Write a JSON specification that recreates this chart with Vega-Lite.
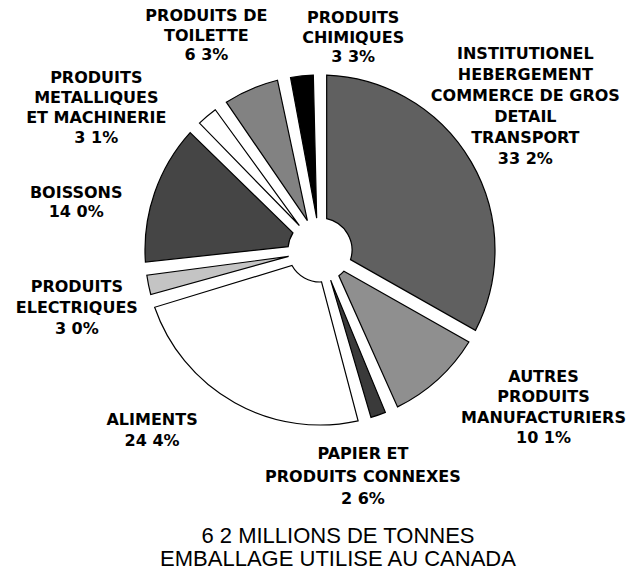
{
  "$schema": "https://vega.github.io/schema/vega-lite/v6.json",
  "width": 640,
  "height": 500,
  "autosize": {"type": "none"},
  "padding": {"left": 0, "top": 0, "right": 0, "bottom": 77},
  "background": "white",
  "view": {"stroke": null},
  "title": {
    "text": ["6 2 MILLIONS DE TONNES", "EMBALLAGE UTILISE AU CANADA"],
    "orient": "bottom",
    "anchor": "middle",
    "frame": "group",
    "offset": 19,
    "dx": 18,
    "font": "Liberation Sans",
    "fontSize": 22,
    "fontWeight": "normal",
    "lineHeight": 23,
    "color": "black"
  },
  "data": {
    "values": [
      {"idx": 1, "categorie": "Institutionnel", "label": "INSTITUTIONEL\nHEBERGEMENT\nCOMMERCE DE GROS\nDETAIL\nTRANSPORT\n33 2%", "pct": 33.2},
      {"idx": 2, "categorie": "Autres produits manufacturiers", "label": "AUTRES\nPRODUITS\nMANUFACTURIERS\n10 1%", "pct": 10.1},
      {"idx": 3, "categorie": "Papier et produits connexes", "label": "PAPIER ET\nPRODUITS CONNEXES\n2 6%", "pct": 2.6},
      {"idx": 4, "categorie": "Aliments", "label": "ALIMENTS\n24 4%", "pct": 24.4},
      {"idx": 5, "categorie": "Produits electriques", "label": "PRODUITS\nELECTRIQUES\n3 0%", "pct": 3.0},
      {"idx": 6, "categorie": "Boissons", "label": "BOISSONS\n14 0%", "pct": 14.0},
      {"idx": 7, "categorie": "Produits metalliques et machinerie", "label": "PRODUITS\nMETALLIQUES\nET MACHINERIE\n3 1%", "pct": 3.1},
      {"idx": 8, "categorie": "Produits de toilette", "label": "PRODUITS DE\nTOILETTE\n6 3%", "pct": 6.3},
      {"idx": 9, "categorie": "Produits chimiques", "label": "PRODUITS\nCHIMIQUES\n3 3%", "pct": 3.3}
    ]
  },
  "encoding": {
    "theta": {"field": "pct", "type": "quantitative", "stack": true},
    "order": {"field": "idx", "type": "quantitative"},
    "detail": {"field": "categorie", "type": "nominal"}
  },
  "layer": [
    {
      "mark": {"type": "arc", "innerRadius": 32, "outerRadius": 175, "padAngle": 0.075, "stroke": "black", "strokeWidth": 1.2},
      "encoding": {
        "color": {
          "field": "categorie",
          "type": "nominal",
          "legend": null,
          "scale": {
            "domain": ["Institutionnel", "Autres produits manufacturiers", "Papier et produits connexes", "Aliments", "Produits electriques", "Boissons", "Produits metalliques et machinerie", "Produits de toilette", "Produits chimiques"],
            "range": ["#606060", "#8f8f8f", "#3a3a3a", "#ffffff", "#c4c4c4", "#454545", "#ffffff", "#828282", "#000000"]
          }
        }
      }
    },
    {
      "mark": {"type": "text", "radius": 240, "dx": -2, "dy": -75, "font": "DejaVu Sans", "fontSize": 16, "fontWeight": "bold", "lineBreak": "\n", "lineHeight": 21, "align": "center", "baseline": "middle", "color": "black"},
      "encoding": {"text": {"condition": {"test": "datum.idx === 1", "field": "label"}, "value": ""}}
    },
    {
      "mark": {"type": "text", "radius": 240, "dx": 62, "dy": -51, "font": "DejaVu Sans", "fontSize": 16, "fontWeight": "bold", "lineBreak": "\n", "lineHeight": 20.5, "align": "center", "baseline": "middle", "color": "black"},
      "encoding": {"text": {"condition": {"test": "datum.idx === 2", "field": "label"}, "value": ""}}
    },
    {
      "mark": {"type": "text", "radius": 240, "dx": -37, "dy": -22, "font": "DejaVu Sans", "fontSize": 16, "fontWeight": "bold", "lineBreak": "\n", "lineHeight": 22.5, "align": "center", "baseline": "middle", "color": "black"},
      "encoding": {"text": {"condition": {"test": "datum.idx === 3", "field": "label"}, "value": ""}}
    },
    {
      "mark": {"type": "text", "radius": 240, "dx": -51, "dy": -40, "font": "DejaVu Sans", "fontSize": 16, "fontWeight": "bold", "lineBreak": "\n", "lineHeight": 21, "align": "center", "baseline": "middle", "color": "black"},
      "encoding": {"text": {"condition": {"test": "datum.idx === 4", "field": "label"}, "value": ""}}
    },
    {
      "mark": {"type": "text", "radius": 240, "dx": -8, "dy": -11, "font": "DejaVu Sans", "fontSize": 16, "fontWeight": "bold", "lineBreak": "\n", "lineHeight": 21, "align": "center", "baseline": "middle", "color": "black"},
      "encoding": {"text": {"condition": {"test": "datum.idx === 5", "field": "label"}, "value": ""}}
    },
    {
      "mark": {"type": "text", "radius": 240, "dx": -17, "dy": 21, "font": "DejaVu Sans", "fontSize": 16, "fontWeight": "bold", "lineBreak": "\n", "lineHeight": 19.5, "align": "center", "baseline": "middle", "color": "black"},
      "encoding": {"text": {"condition": {"test": "datum.idx === 6", "field": "label"}, "value": ""}}
    },
    {
      "mark": {"type": "text", "radius": 240, "dx": -69, "dy": 11, "font": "DejaVu Sans", "fontSize": 16, "fontWeight": "bold", "lineBreak": "\n", "lineHeight": 20, "align": "center", "baseline": "middle", "color": "black"},
      "encoding": {"text": {"condition": {"test": "datum.idx === 7", "field": "label"}, "value": ""}}
    },
    {
      "mark": {"type": "text", "radius": 240, "dx": -19, "dy": -13, "font": "DejaVu Sans", "fontSize": 16, "fontWeight": "bold", "lineBreak": "\n", "lineHeight": 19.5, "align": "center", "baseline": "middle", "color": "black"},
      "encoding": {"text": {"condition": {"test": "datum.idx === 8", "field": "label"}, "value": ""}}
    },
    {
      "mark": {"type": "text", "radius": 240, "dx": 58, "dy": 7, "font": "DejaVu Sans", "fontSize": 16, "fontWeight": "bold", "lineBreak": "\n", "lineHeight": 19.5, "align": "center", "baseline": "middle", "color": "black"},
      "encoding": {"text": {"condition": {"test": "datum.idx === 9", "field": "label"}, "value": ""}}
    }
  ]
}
